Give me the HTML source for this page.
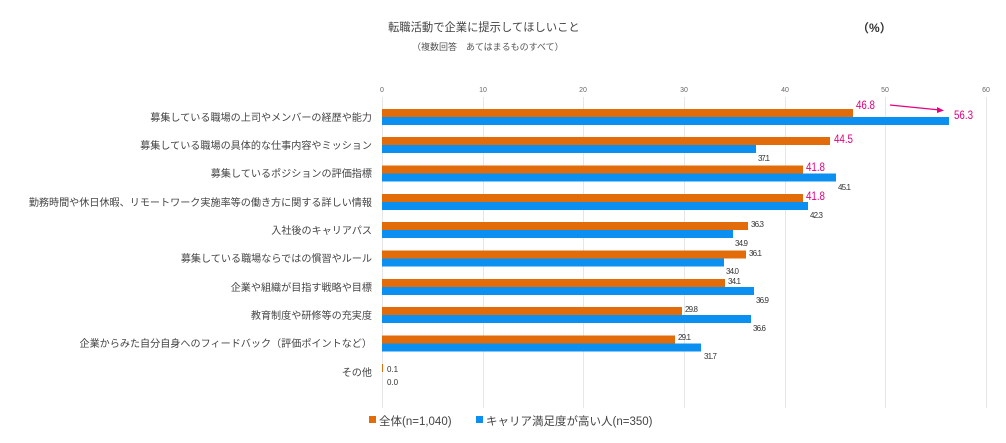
<!DOCTYPE html>
<html><head><meta charset="utf-8"><style>
body{margin:0;background:#fff;}
svg text{font-family:"Liberation Sans","Noto Sans CJK JP",sans-serif;}
</style></head><body>
<svg width="1006" height="438" xmlns="http://www.w3.org/2000/svg">
<rect width="1006" height="438" fill="#fff"/>
<text x="388" y="31" font-size="11.3" fill="#444">転職活動で企業に提示してほしいこと</text>
<text x="412" y="50" font-size="9" fill="#555">（複数回答　あてはまるものすべて）</text>
<text x="857" y="32" font-size="12" font-weight="bold" fill="#333">（%）</text>
<g stroke="#e6e6e6" stroke-width="1">
<line x1="382.5" y1="97" x2="382.5" y2="408"/><line x1="483.5" y1="97" x2="483.5" y2="408"/>
<line x1="583.5" y1="97" x2="583.5" y2="408"/><line x1="684.5" y1="97" x2="684.5" y2="408"/>
<line x1="785.5" y1="97" x2="785.5" y2="408"/><line x1="885.5" y1="97" x2="885.5" y2="408"/>
<line x1="986.5" y1="97" x2="986.5" y2="408"/>
</g>
<g font-size="7" fill="#666" text-anchor="middle">
<text x="382" y="92">0</text><text x="483" y="92">10</text><text x="583" y="92">20</text><text x="684" y="92">30</text><text x="785" y="92">40</text><text x="885" y="92">50</text><text x="986" y="92">60</text>
</g>
<g font-size="10.1" fill="#444" text-anchor="end">
<text x="372" y="121">募集している職場の上司やメンバーの経歴や能力</text>
<text x="372" y="149">募集している職場の具体的な仕事内容やミッション</text>
<text x="372" y="177">募集しているポジションの評価指標</text>
<text x="372" y="206">勤務時間や休日休暇、リモートワーク実施率等の働き方に関する詳しい情報</text>
<text x="372" y="234">入社後のキャリアパス</text>
<text x="372" y="262">募集している職場ならではの慣習やルール</text>
<text x="372" y="291">企業や組織が目指す戦略や目標</text>
<text x="372" y="319">教育制度や研修等の充実度</text>
<text x="372" y="347">企業からみた自分自身へのフィードバック（評価ポイントなど）</text>
<text x="372" y="376">その他</text>
</g>
<g fill="#e36c0a">
<rect x="382" y="109" width="471" height="8"/>
<rect x="382" y="137" width="448" height="8"/>
<rect x="382" y="165.5" width="421" height="8"/>
<rect x="382" y="194" width="421" height="8"/>
<rect x="382" y="222" width="366" height="8"/>
<rect x="382" y="250.5" width="364" height="8"/>
<rect x="382" y="279" width="343" height="8"/>
<rect x="382" y="307" width="300" height="8"/>
<rect x="382" y="335.5" width="293" height="8"/>
<rect x="382" y="364" width="1" height="8"/>
</g>
<g fill="#0b8ff0">
<rect x="382" y="117" width="567" height="8"/>
<rect x="382" y="145" width="374" height="8"/>
<rect x="382" y="173.5" width="454" height="8"/>
<rect x="382" y="202" width="426" height="8"/>
<rect x="382" y="230" width="351" height="8"/>
<rect x="382" y="258.5" width="342" height="8"/>
<rect x="382" y="287" width="372" height="8"/>
<rect x="382" y="315" width="369" height="8"/>
<rect x="382" y="343.5" width="319" height="8"/>
</g>
<g font-size="11.5" fill="#e4007f">
<text x="856" y="109" transform="translate(856 0) scale(0.85 1) translate(-856 0)">46.8</text>
<text x="954" y="119" transform="translate(954 0) scale(0.85 1) translate(-954 0)">56.3</text>
<text x="834" y="143" transform="translate(834 0) scale(0.85 1) translate(-834 0)">44.5</text>
<text x="806" y="171" transform="translate(806 0) scale(0.85 1) translate(-806 0)">41.8</text>
<text x="806" y="200" transform="translate(806 0) scale(0.85 1) translate(-806 0)">41.8</text>
</g>
<line x1="890" y1="105" x2="940" y2="110" stroke="#e4007f" stroke-width="1.2"/>
<polygon points="944,110.5 937,107 937,113" fill="#e4007f"/>
<g font-size="8" fill="#333" transform="scale(1 1)">
<text x="758" y="161" textLength="12">37.1</text><text x="838" y="190" textLength="13">45.1</text><text x="810" y="218" textLength="13">42.3</text>
<text x="751" y="227" textLength="13">36.3</text><text x="735" y="246" textLength="13">34.9</text>
<text x="749" y="256" textLength="13">36.1</text><text x="726" y="274" textLength="13">34.0</text>
<text x="728" y="284" textLength="13">34.1</text><text x="756" y="303" textLength="13">36.9</text>
<text x="685" y="312" textLength="13">29.8</text><text x="753" y="331" textLength="13">36.6</text>
<text x="678" y="340" textLength="13">29.1</text><text x="704" y="359" textLength="13">31.7</text>
<text x="387" y="372">0.1</text><text x="387" y="385">0.0</text>
</g>
<rect x="369" y="416" width="7" height="7" fill="#e36c0a"/>
<text x="379" y="425" font-size="11.5" fill="#444">全体(n=1,040)</text>
<rect x="476" y="416" width="7" height="7" fill="#0b8ff0"/>
<text x="486" y="425" font-size="11.5" fill="#444">キャリア満足度が高い人(n=350)</text>
</svg>
</body></html>
